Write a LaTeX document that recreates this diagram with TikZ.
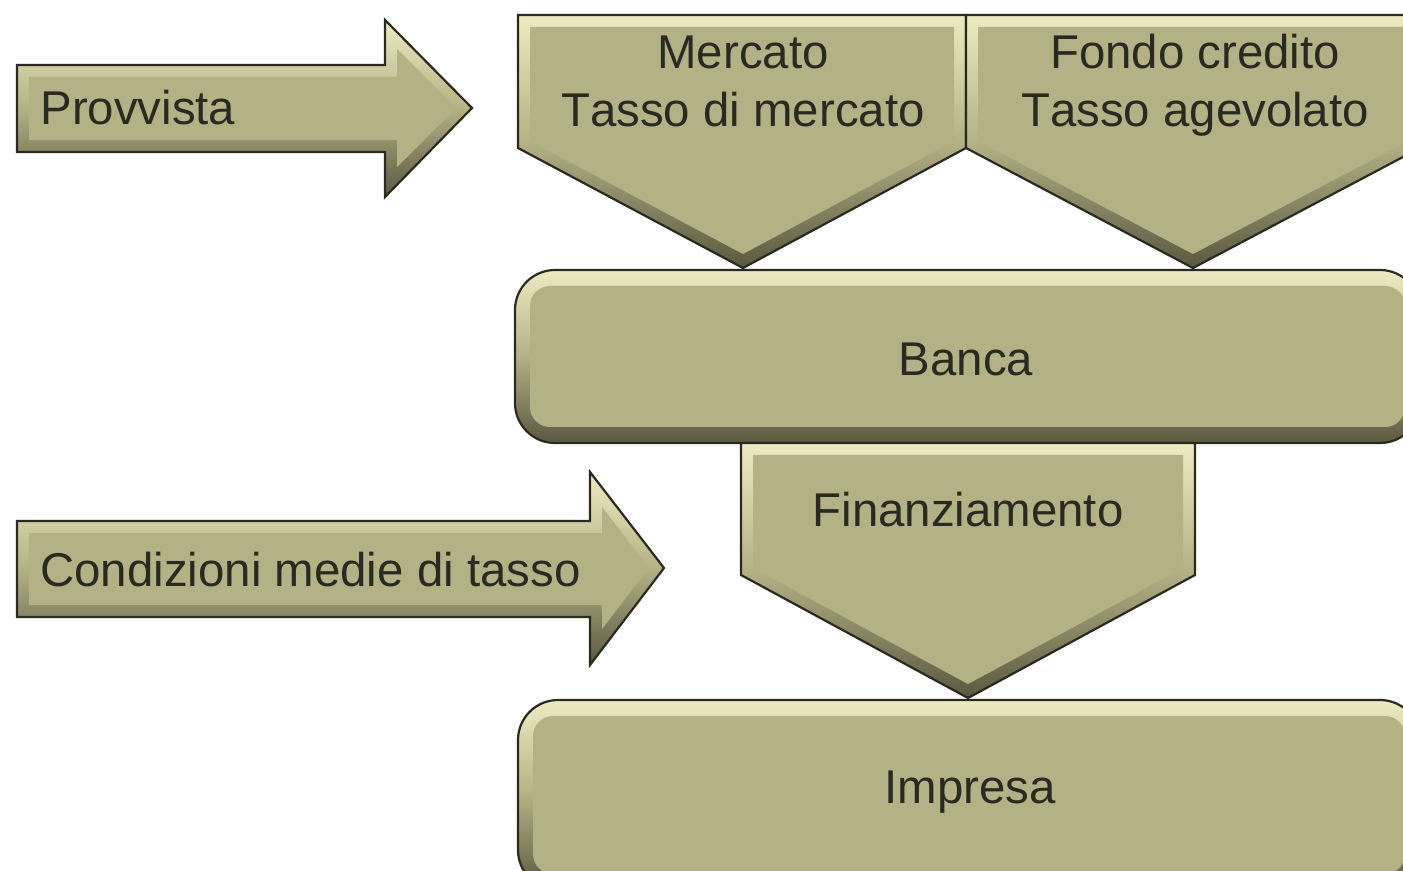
\documentclass[tikz,border=0pt]{standalone}
\usepackage{fontspec}
\setmainfont[Kerning=Off]{Liberation Sans}
\definecolor{khaki}{HTML}{B4B186}
\definecolor{khakilight}{HTML}{EEEBC3}
\definecolor{khakidark}{HTML}{5A5840}
\definecolor{inkdark}{HTML}{2B2A20}
\tikzset{
  bevelshade/.style={top color=khakilight, bottom color=khakidark, middle color=khaki},
  flatface/.style={fill=khaki},
  rim/.style={draw=inkdark, line width=1.1pt, line join=miter},
  label/.style={text=inkdark, font=\fontsize{23.7}{29}\selectfont, inner sep=0pt, align=center}
}
\begin{document}
\begin{tikzpicture}[x=0.5pt, y=-0.5pt]
   \useasboundingbox (0,0) rectangle (1403,871);
   \clip (0,0) rectangle (1403,871);
   % arrows on the left
   \fill[bevelshade] (17,65) -- (385,65) -- (385,20) -- (472,108) -- (385,197) -- (385,152) -- (17,152) -- cycle;
   \fill[flatface] (29,77) -- (397,77) -- (397,49) -- (456,108) -- (397,167) -- (397,140) -- (29,140) -- cycle;
   \draw[rim] (17,65) -- (385,65) -- (385,20) -- (472,108) -- (385,197) -- (385,152) -- (17,152) -- cycle;
   \node[label, anchor=west] (provvista) at (40,108) {Provvista};
   \fill[bevelshade] (17,521) -- (590,521) -- (590,472) -- (664,568) -- (590,665) -- (590,617) -- (17,617) -- cycle;
   \fill[flatface] (29,533) -- (602,533) -- (602,507) -- (649,568) -- (602,629) -- (602,605) -- (29,605) -- cycle;
   \draw[rim] (17,521) -- (590,521) -- (590,472) -- (664,568) -- (590,665) -- (590,617) -- (17,617) -- cycle;
   \node[label, anchor=west] (condizioni) at (40,570) {Condizioni medie di tasso};
   % rounded boxes
   \fill[bevelshade, rounded corners=20] (515,270) rectangle (1420,443);
   \fill[flatface, rounded corners=10] (530,286) rectangle (1405,427);
   \draw[rim, rounded corners=20] (515,270) rectangle (1420,443);
   \node[label] (banca) at (966,359) {Banca};
   \fill[bevelshade, rounded corners=20] (518,700) rectangle (1420,890);
   \fill[flatface, rounded corners=10] (533,716) rectangle (1405,874);
   \draw[rim, rounded corners=20] (518,700) rectangle (1420,890);
   \node[label] (impresa) at (970,792) {Impresa};
   % pentagons pointing down
   \fill[bevelshade] (518,15) -- (966,15) -- (966,148) -- (743,268) -- (518,148) -- cycle;
   \fill[flatface] (530,27) -- (954,27) -- (954,141) -- (743,254) -- (530,141) -- cycle;
   \draw[rim] (518,15) -- (966,15) -- (966,148) -- (743,268) -- (518,148) -- cycle;
   \node[label] (mercato) at (743,81) {Mercato\\Tasso di mercato};
   \fill[bevelshade] (966,15) -- (1420,15) -- (1420,148) -- (1193,268) -- (966,148) -- cycle;
   \fill[flatface] (978,27) -- (1408,27) -- (1408,141) -- (1193,254) -- (978,141) -- cycle;
   \draw[rim] (966,15) -- (1420,15) -- (1420,148) -- (1193,268) -- (966,148) -- cycle;
   \node[label] (fondo) at (1195,85) {Fondo credito\\Tasso agevolato};
   \fill[bevelshade] (741,443) -- (1195,443) -- (1195,575) -- (968,698) -- (741,575) -- cycle;
   \fill[flatface] (753,455) -- (1183,455) -- (1183,568) -- (968,684) -- (753,568) -- cycle;
   \draw[rim] (741,443) -- (1195,443) -- (1195,575) -- (968,698) -- (741,575) -- cycle;
   \node[label] (finanziamento) at (968,510) {Finanziamento};
\end{tikzpicture}
\end{document}
